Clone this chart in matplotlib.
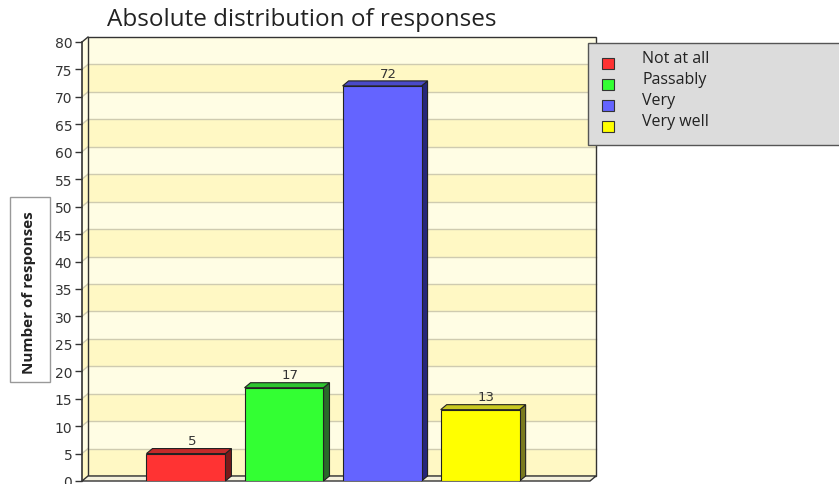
import matplotlib.pyplot as plt
from matplotlib.patches import Polygon, Rectangle

categories = ['Not at all', 'Passably', 'Very', 'Very well']
counts = [5, 17, 72, 13]
front_colors = ['#ff3333', '#33ff33', '#6464ff', '#ffff00']
side_colors = ['#7a1a1a', '#2a6a2a', '#26267a', '#7a7a1e']
top_colors = ['#c42a2a', '#2ec42e', '#4a4ac8', '#c8c820']
yticks = list(range(0, 85, 5))

plt.rcParams['font.family'] = ['DejaVu Sans']
fig = plt.figure(figsize=(8.39, 4.85), dpi=100)
ax = fig.add_axes([82 / 839, 3 / 485, 508 / 839, 439 / 485])
x0, x1 = -1.06, 4.12
ax.set_xlim(x0, x1)
ax.set_ylim(0, 80)

# depth of the fake 3d effect in data units
dx = 6 / (508 / (x1 - x0))
dy = 5 / (439 / 80)

# back wall with alternating bands
for i, y in enumerate(yticks[:-1]):
    col = '#fff8c4' if i % 2 == 0 else '#fffde4'
    ax.add_patch(Rectangle((x0 + dx, y + dy), x1 - x0, 5, facecolor=col,
                           edgecolor='none', clip_on=False, zorder=0))
    ax.add_patch(Polygon([(x0, y), (x0 + dx, y + dy), (x0 + dx, y + 5 + dy), (x0, y + 5)],
                         closed=True, facecolor=col, edgecolor='none', clip_on=False, zorder=0))
for y in yticks[1:-1]:
    ax.plot([x0 + dx, x1 + dx], [y + dy, y + dy], color='#cfcbb0', lw=1, clip_on=False, zorder=1)
    ax.plot([x0, x0 + dx], [y, y + dy], color='#cfcbb0', lw=1, clip_on=False, zorder=1)
ax.add_patch(Rectangle((x0 + dx, dy), x1 - x0, 80, facecolor='none',
                       edgecolor='#333333', lw=1, clip_on=False, zorder=1))
ax.add_patch(Polygon([(x0, 0), (x0 + dx, dy), (x1 + dx, dy), (x1, 0)], closed=True,
                     facecolor='#f4f1dc', edgecolor='#333333', lw=1, clip_on=False, zorder=1))
ax.plot([x0, x0], [0, 80], color='#333333', lw=1.2, clip_on=False, zorder=2)
ax.plot([x0, x0 + dx], [80, 80 + dy], color='#333333', lw=1, clip_on=False, zorder=2)

# bars
w = 0.805
for i, v in enumerate(counts):
    l, r = i - w / 2, i + w / 2
    ax.bar(i, v, width=w, color=front_colors[i], edgecolor='#222222', lw=0.8, zorder=4)
    ax.add_patch(Polygon([(r, 0), (r + dx, dy), (r + dx, v + dy), (r, v)], closed=True,
                         facecolor=side_colors[i], edgecolor='#222222', lw=0.8, zorder=3,
                         clip_on=False))
    ax.add_patch(Polygon([(l, v), (l + dx, v + dy), (r + dx, v + dy), (r, v)], closed=True,
                         facecolor=top_colors[i], edgecolor='#222222', lw=0.8, zorder=3,
                         clip_on=False))
    ax.text(i + dx, v + dy + 0.25, str(v), ha='center', va='bottom',
            fontsize=9.5, color='#333333', zorder=5)

for s in ax.spines.values():
    s.set_visible(False)
ax.set_xticks([])
ax.set_yticks(yticks)
ax.tick_params(axis='y', length=5, width=1, color='#333333', labelsize=10,
               labelcolor='#333333', pad=2)

fig.text(302 / 839, 0.958, 'Absolute distribution of responses', ha='center', va='center',
         fontsize=17.5, family='Open Sans', color='#222222')

# y label in its own box
fig.patches.append(Rectangle((10 / 839, 1 - 383 / 485), 40 / 839, 185 / 485,
                             transform=fig.transFigure, facecolor='white',
                             edgecolor='#999999', lw=1, figure=fig))
fig.text(29 / 839, 1 - 293 / 485, 'Number of responses', rotation=90, ha='center',
         va='center', fontsize=11, family='Open Sans', fontweight='bold', color='#222222')

# legend panel
fig.patches.append(Rectangle((588 / 839, 1 - 146 / 485), 0.4, 102 / 485,
                             transform=fig.transFigure, facecolor='#dcdcdc',
                             edgecolor='#555555', lw=1, figure=fig))
for i, lab in enumerate(categories):
    yy = 1 - (64 + i * 21) / 485
    fig.patches.append(Rectangle((602 / 839, yy - 6 / 485), 12 / 839, 11 / 485,
                                 transform=fig.transFigure, facecolor=front_colors[i],
                                 edgecolor='#333333', lw=0.8, figure=fig))
    fig.text(642 / 839, yy + 5 / 485, lab, ha='left', va='center', fontsize=11.5,
             family='Open Sans', color='#222222')

fig.savefig('out.png', dpi=100)
